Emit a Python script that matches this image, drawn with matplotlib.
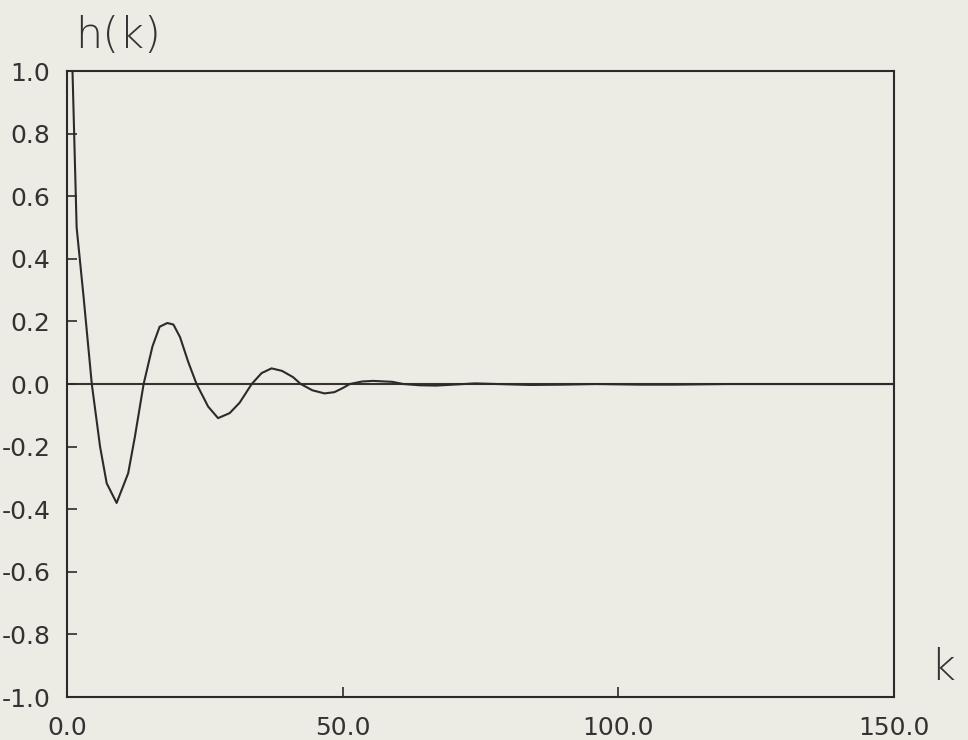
import numpy as np
import matplotlib
matplotlib.use("Agg")
import matplotlib.pyplot as plt

plt.rcParams['axes.unicode_minus'] = False
plt.rcParams['font.family'] = ['DejaVu Sans']

# odpowiedz impulsowa h(k)
k = [1, 1.75, 3, 4.5, 6, 7.2, 9, 11.1, 12.3, 13.9, 15.5, 16.8, 18.2, 19.3,
     20.5, 22, 23.5, 25.6, 27.4, 29.5, 31.3, 33.5, 35.3, 37.1, 39, 41, 42.4,
     44.5, 46.7, 48.5, 50, 51.3, 53.5, 55.5, 59, 61, 64, 67, 70, 74, 78, 84,
     90, 96, 104, 110, 120, 130, 140, 150]
h = [1.0, 0.5, 0.28, 0.0, -0.2, -0.317, -0.38, -0.285, -0.17, 0.0, 0.12,
     0.183, 0.195, 0.19, 0.15, 0.07, 0.0, -0.072, -0.109, -0.093, -0.06, 0.0,
     0.035, 0.05, 0.042, 0.022, 0.0, -0.02, -0.03, -0.026, -0.013, 0.0, 0.008,
     0.01, 0.007, 0.0, -0.004, -0.005, -0.002, 0.002, 0.0, -0.003, -0.002,
     0.0, -0.002, -0.002, 0.0, 0.0, 0.0, 0.0]

xticks = [0, 50, 100, 150]
xlabels = ['0.0', '50.0', '100.0', '150.0']
yticks = [-1.0, -0.8, -0.6, -0.4, -0.2, 0.0, 0.2, 0.4, 0.6, 0.8, 1.0]
ylabels = ['-1.0', '-0.8', '-0.6', '-0.4', '-0.2', '0.0',
           '0.2', '0.4', '0.6', '0.8', '1.0']

bg = '#ecece4'
ink = '#2b2b2b'

fig = plt.figure(figsize=(9.68, 7.4), dpi=100, facecolor=bg)
ax = fig.add_axes([0.0692, 0.0581, 0.8544, 0.8459], facecolor=bg)

ax.axhline(0, color='#3a3232', lw=1.5, zorder=1)
ax.plot(k, h, color=ink, lw=1.5, zorder=2)

ax.set_xlim(0, 150)
ax.set_ylim(-1.0, 1.0)
ax.set_xticks(xticks)
ax.set_xticklabels(xlabels, fontsize=18)
ax.set_yticks(yticks)
ax.set_yticklabels(ylabels, fontsize=18)
ax.tick_params(axis='both', direction='in', length=7, width=1.2, color=ink,
               labelcolor='#333333')
ax.tick_params(axis='y', pad=12)
ax.tick_params(axis='x', pad=14)

for s in ax.spines.values():
    s.set_color(ink)
    s.set_linewidth(1.5)

fig.text(75 / 968, 1 - 48 / 740, 'h(k)', fontsize=31, fontweight='light',
         color='#333333', ha='left', va='baseline')
fig.text(930 / 968, 1 - 680 / 740, 'k', fontsize=31, fontweight='light',
         color='#333333', ha='left', va='baseline')

fig.savefig('out.png', dpi=100, facecolor=bg)
